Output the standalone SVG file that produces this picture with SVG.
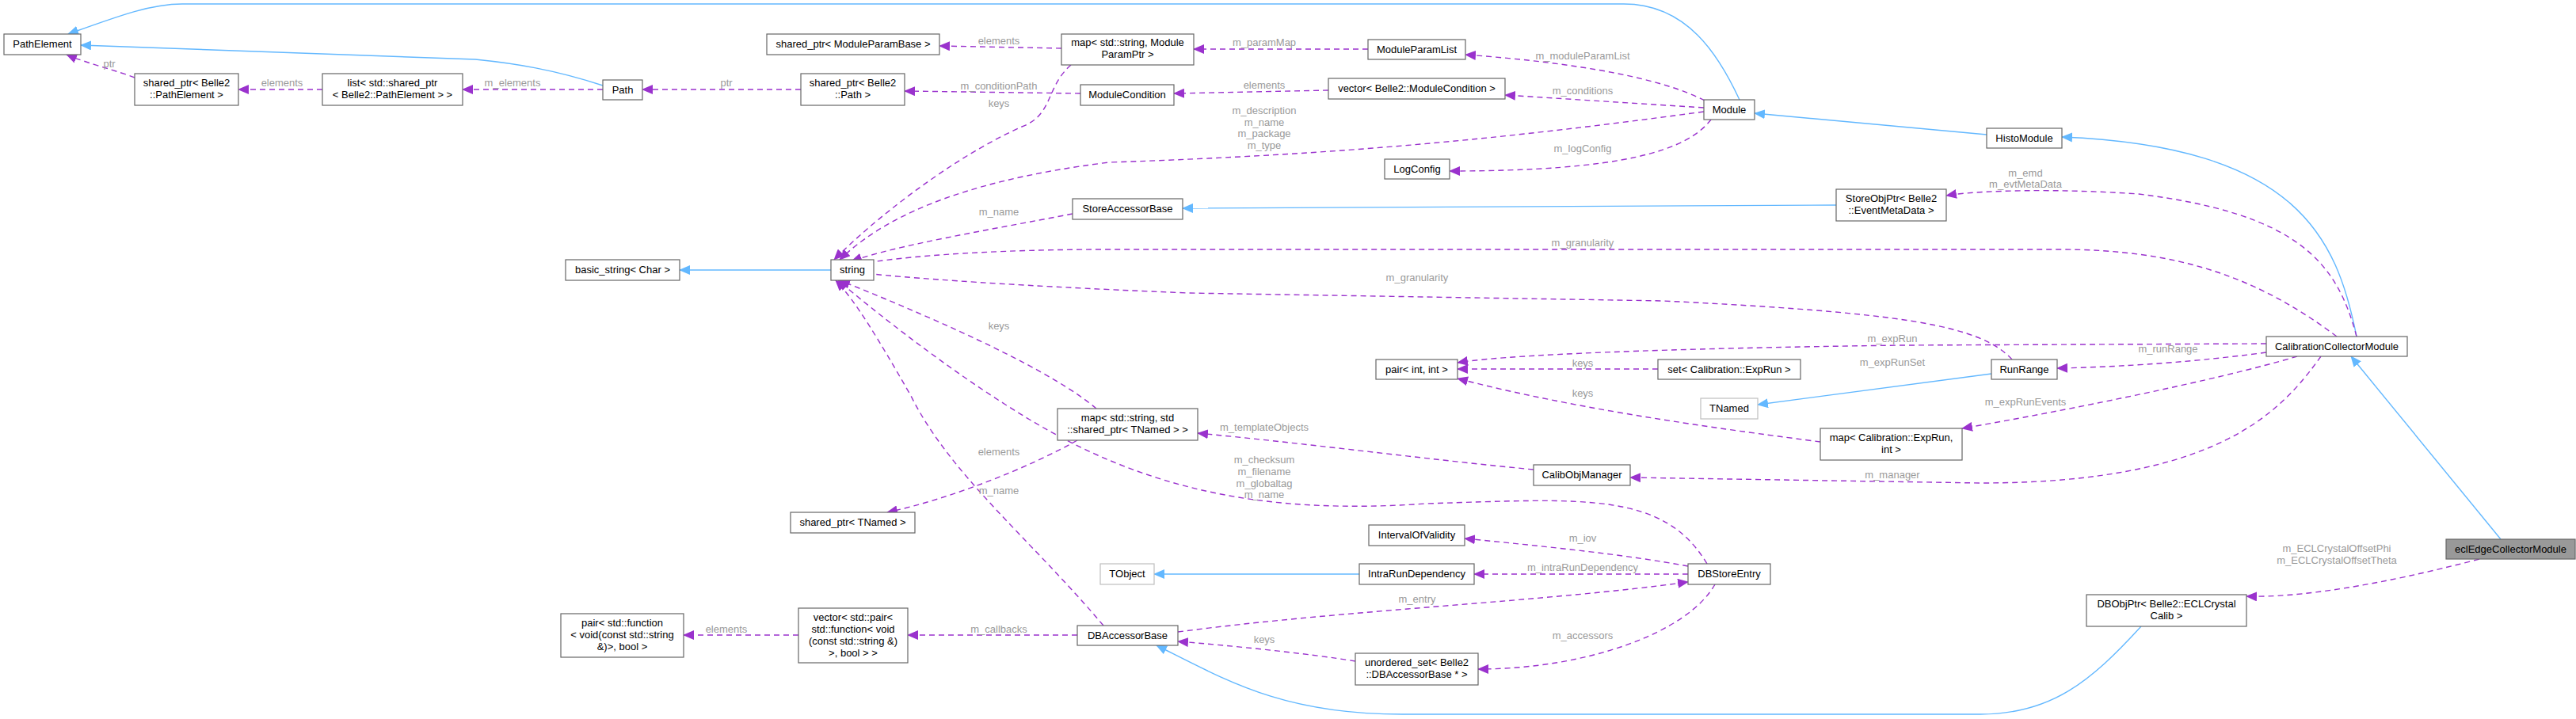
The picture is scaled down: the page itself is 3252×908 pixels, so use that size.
<svg xmlns="http://www.w3.org/2000/svg" width="3252" height="908" viewBox="0 0 3252 908">
<style>
text{font-family:"Liberation Sans",Arial,sans-serif;font-size:13px;text-anchor:middle}
.n rect{fill:#fff;stroke:#666;stroke-width:1.2}
.n.g rect{stroke:#bfbfbf}
.n.c rect{fill:#999}
.n text{fill:#000}
.b{fill:none;stroke:#63b8ff;stroke-width:1.4;marker-end:url(#ab)}
.d{fill:none;stroke:#9a32cd;stroke-width:1.4;stroke-dasharray:7,5;marker-end:url(#ad)}
.l text{fill:#9a9a9a}
</style>
<defs>
<marker id="ab" markerWidth="14" markerHeight="12" refX="13" refY="6" orient="auto" markerUnits="userSpaceOnUse"><path d="M0,0L14,6L0,12z" fill="#63b8ff"/></marker>
<marker id="ad" markerWidth="14" markerHeight="12" refX="13" refY="6" orient="auto" markerUnits="userSpaceOnUse"><path d="M0,0L14,6L0,12z" fill="#9a32cd"/></marker>
</defs>
<rect width="3252" height="908" fill="#fff"/>
<g id="edges">
<path class="b" d="M2196,126 C2170,70 2130,5 2050,5 L230,5 C190,5 150,20 86,43"/>
<path class="b" d="M761,108 C700,88 650,80 600,75 L102,57"/>
<path class="b" d="M2508,170 L2215,143"/>
<path class="b" d="M2975,425 C2950,300 2900,185 2603,173"/>
<path class="b" d="M2318,259 L1493,263"/>
<path class="b" d="M1049,341 L858,341"/>
<path class="b" d="M2514,472 L2219,511"/>
<path class="b" d="M1716,725 L1457,725"/>
<path class="b" d="M2703,791 C2640,860 2590,902 2500,902 L1770,902 C1620,902 1550,860 1460,815"/>
<path class="b" d="M3157,681 L2968,450"/>
<path class="d" d="M170,98 C150,90 110,80 84,69"/>
<path class="d" d="M407,113 L301,113"/>
<path class="d" d="M761,113 L584,113"/>
<path class="d" d="M1011,113 L811,113"/>
<path class="d" d="M1340,61 L1186,58"/>
<path class="d" d="M1727,62 L1507,62"/>
<path class="d" d="M2152,127 C2100,100 2000,80 1850,69"/>
<path class="d" d="M1364,118 L1142,115"/>
<path class="d" d="M1677,114 L1482,118"/>
<path class="d" d="M2151,136 L1900,120"/>
<path class="d" d="M2151,141 C1900,175 1700,195 1400,205 C1200,230 1110,280 1060,328"/>
<path class="d" d="M2160,151 C2130,190 2050,216 1830,216"/>
<path class="d" d="M1352,82 C1320,110 1330,145 1290,160 C1200,200 1100,280 1053,328"/>
<path class="d" d="M1354,270 C1250,290 1130,310 1075,330"/>
<path class="d" d="M2950,425 C2850,350 2750,315 2600,315 L1400,315 C1200,315 1100,330 1075,335"/>
<path class="d" d="M2540,454 C2500,410 2400,395 2100,380 L1500,370 C1250,360 1110,348 1075,343"/>
<path class="d" d="M2975,425 C2950,330 2900,270 2700,245 C2600,238 2500,240 2457,247"/>
<path class="d" d="M2861,434 L2400,436 C2100,440 1900,448 1840,458"/>
<path class="d" d="M2861,445 C2750,460 2650,464 2597,465"/>
<path class="d" d="M2093,466 L1840,466"/>
<path class="d" d="M2298,558 C2200,545 2000,520 1840,478"/>
<path class="d" d="M2900,450 C2800,480 2600,520 2477,541"/>
<path class="d" d="M2930,450 C2880,520 2800,610 2500,610 L2058,603"/>
<path class="d" d="M1936,593 C1800,580 1650,560 1512,547"/>
<path class="d" d="M1384,516 C1330,470 1200,410 1060,354"/>
<path class="d" d="M1360,556 C1300,590 1200,630 1120,647"/>
<path class="d" d="M2155,712 C2100,620 2000,630 1800,636 C1600,650 1450,620 1300,530 C1200,470 1100,390 1058,354"/>
<path class="d" d="M1393,790 C1300,680 1200,600 1150,500 C1110,430 1080,380 1055,354"/>
<path class="d" d="M2131,715 C2050,700 1950,690 1849,680"/>
<path class="d" d="M2131,725 L1861,725"/>
<path class="d" d="M1487,798 C1700,770 1950,760 2131,735"/>
<path class="d" d="M2165,738 C2130,800 2000,845 1866,845"/>
<path class="d" d="M1711,835 C1650,825 1550,815 1487,810"/>
<path class="d" d="M1360,802 L1146,802"/>
<path class="d" d="M1008,802 L863,802"/>
<path class="d" d="M3130,706 C3000,740 2900,755 2836,753"/>
</g>
<g class="l">
<text x="138" y="85">ptr</text>
<text x="356" y="109">elements</text>
<text x="647" y="109">m_elements</text>
<text x="917" y="109">ptr</text>
<text x="1261" y="56">elements</text>
<text x="1596" y="58">m_paramMap</text>
<text x="1998" y="75">m_moduleParamList</text>
<text x="1261" y="113">m_conditionPath</text>
<text x="1261" y="135">keys</text>
<text x="1596" y="112">elements</text>
<text x="1998" y="119">m_conditions</text>
<text x="1596" y="144">m_description</text>
<text x="1596" y="159">m_name</text>
<text x="1596" y="173">m_package</text>
<text x="1596" y="188">m_type</text>
<text x="1998" y="192">m_logConfig</text>
<text x="1261" y="272">m_name</text>
<text x="1998" y="311">m_granularity</text>
<text x="1789" y="355">m_granularity</text>
<text x="1261" y="416">keys</text>
<text x="2557" y="223">m_emd</text>
<text x="2557" y="237">m_evtMetaData</text>
<text x="2389" y="432">m_expRun</text>
<text x="2737" y="445">m_runRange</text>
<text x="1998" y="463">keys</text>
<text x="2389" y="462">m_expRunSet</text>
<text x="1998" y="501">keys</text>
<text x="2557" y="512">m_expRunEvents</text>
<text x="1596" y="544">m_templateObjects</text>
<text x="1261" y="575">elements</text>
<text x="1596" y="585">m_checksum</text>
<text x="1596" y="600">m_filename</text>
<text x="1596" y="615">m_globaltag</text>
<text x="1596" y="629">m_name</text>
<text x="2389" y="604">m_manager</text>
<text x="1261" y="624">m_name</text>
<text x="1998" y="684">m_iov</text>
<text x="1998" y="721">m_intraRunDependency</text>
<text x="1789" y="761">m_entry</text>
<text x="1261" y="799">m_callbacks</text>
<text x="917" y="799">elements</text>
<text x="1596" y="812">keys</text>
<text x="1998" y="807">m_accessors</text>
<text x="2950" y="697">m_ECLCrystalOffsetPhi</text>
<text x="2950" y="712">m_ECLCrystalOffsetTheta</text>
</g>
<g id="PathElement" class="n"><rect x="5" y="43" width="97" height="26"/><text x="53.5" y="60">PathElement</text></g>
<g id="sp_PathElement" class="n"><rect x="170" y="93" width="131" height="40"/><text x="235.5" y="109">shared_ptr&lt; Belle2</text><text x="235.5" y="124">::PathElement &gt;</text></g>
<g id="list_sp" class="n"><rect x="407" y="93" width="177" height="40"/><text x="495.5" y="109">list&lt; std::shared_ptr</text><text x="495.5" y="124">&lt; Belle2::PathElement &gt; &gt;</text></g>
<g id="Path" class="n"><rect x="761" y="101" width="50" height="25"/><text x="786" y="118">Path</text></g>
<g id="sp_ModuleParamBase" class="n"><rect x="968" y="43" width="218" height="26"/><text x="1077" y="60">shared_ptr&lt; ModuleParamBase &gt;</text></g>
<g id="sp_Path" class="n"><rect x="1011" y="93" width="131" height="40"/><text x="1076.5" y="109">shared_ptr&lt; Belle2</text><text x="1076.5" y="124">::Path &gt;</text></g>
<g id="map_ModuleParamPtr" class="n"><rect x="1340" y="43" width="167" height="39"/><text x="1423.5" y="58">map&lt; std::string, Module</text><text x="1423.5" y="73">ParamPtr &gt;</text></g>
<g id="ModuleParamList" class="n"><rect x="1727" y="50" width="123" height="25"/><text x="1788.5" y="67">ModuleParamList</text></g>
<g id="ModuleCondition" class="n"><rect x="1364" y="107" width="118" height="26"/><text x="1423" y="124">ModuleCondition</text></g>
<g id="vec_ModuleCondition" class="n"><rect x="1677" y="99" width="223" height="26"/><text x="1788.5" y="116">vector&lt; Belle2::ModuleCondition &gt;</text></g>
<g id="Module" class="n"><rect x="2151" y="126" width="64" height="25"/><text x="2183" y="143">Module</text></g>
<g id="LogConfig" class="n"><rect x="1748" y="201" width="82" height="25"/><text x="1789" y="218">LogConfig</text></g>
<g id="StoreAccessorBase" class="n"><rect x="1354" y="251" width="139" height="26"/><text x="1423.5" y="268">StoreAccessorBase</text></g>
<g id="HistoModule" class="n"><rect x="2508" y="162" width="95" height="25"/><text x="2555.5" y="179">HistoModule</text></g>
<g id="StoreObjPtr" class="n"><rect x="2318" y="239" width="139" height="40"/><text x="2387.5" y="255">StoreObjPtr&lt; Belle2</text><text x="2387.5" y="270">::EventMetaData &gt;</text></g>
<g id="basic_string" class="n"><rect x="714" y="328" width="144" height="26"/><text x="786" y="345">basic_string&lt; Char &gt;</text></g>
<g id="string" class="n"><rect x="1049" y="328" width="54" height="26"/><text x="1076" y="345">string</text></g>
<g id="CalibrationCollectorModule" class="n"><rect x="2861" y="425" width="178" height="25"/><text x="2950" y="442">CalibrationCollectorModule</text></g>
<g id="pair_int" class="n"><rect x="1737" y="454" width="103" height="25"/><text x="1788.5" y="471">pair&lt; int, int &gt;</text></g>
<g id="set_ExpRun" class="n"><rect x="2093" y="454" width="180" height="25"/><text x="2183" y="471">set&lt; Calibration::ExpRun &gt;</text></g>
<g id="RunRange" class="n"><rect x="2514" y="454" width="83" height="25"/><text x="2555.5" y="471">RunRange</text></g>
<g id="TNamed" class="n g"><rect x="2147" y="503" width="72" height="26"/><text x="2183" y="520">TNamed</text></g>
<g id="map_TNamed" class="n"><rect x="1335" y="516" width="177" height="40"/><text x="1423.5" y="532">map&lt; std::string, std</text><text x="1423.5" y="547">::shared_ptr&lt; TNamed &gt; &gt;</text></g>
<g id="map_ExpRun" class="n"><rect x="2298" y="541" width="179" height="40"/><text x="2387.5" y="557">map&lt; Calibration::ExpRun,</text><text x="2387.5" y="572">int &gt;</text></g>
<g id="CalibObjManager" class="n"><rect x="1936" y="587" width="122" height="26"/><text x="1997" y="604">CalibObjManager</text></g>
<g id="sp_TNamed" class="n"><rect x="998" y="647" width="157" height="26"/><text x="1076.5" y="664">shared_ptr&lt; TNamed &gt;</text></g>
<g id="IntervalOfValidity" class="n"><rect x="1728" y="663" width="121" height="26"/><text x="1788.5" y="680">IntervalOfValidity</text></g>
<g id="TObject" class="n g"><rect x="1389" y="712" width="68" height="26"/><text x="1423" y="729">TObject</text></g>
<g id="IntraRunDependency" class="n"><rect x="1716" y="712" width="145" height="26"/><text x="1788.5" y="729">IntraRunDependency</text></g>
<g id="DBStoreEntry" class="n"><rect x="2131" y="712" width="104" height="26"/><text x="2183" y="729">DBStoreEntry</text></g>
<g id="eclEdgeCollectorModule" class="n c"><rect x="3088" y="681" width="163" height="25"/><text x="3169.5" y="698">eclEdgeCollectorModule</text></g>
<g id="DBObjPtr" class="n"><rect x="2634" y="751" width="202" height="40"/><text x="2735" y="767">DBObjPtr&lt; Belle2::ECLCrystal</text><text x="2735" y="782">Calib &gt;</text></g>
<g id="pair_function" class="n"><rect x="708" y="775" width="155" height="55"/><text x="785.5" y="791">pair&lt; std::function</text><text x="785.5" y="806">&lt; void(const std::string</text><text x="785.5" y="821">&amp;)&gt;, bool &gt;</text></g>
<g id="vec_pair" class="n"><rect x="1008" y="768" width="138" height="69"/><text x="1077" y="784">vector&lt; std::pair&lt;</text><text x="1077" y="799">std::function&lt; void</text><text x="1077" y="814">(const std::string &amp;)</text><text x="1077" y="829">&gt;, bool &gt; &gt;</text></g>
<g id="DBAccessorBase" class="n"><rect x="1360" y="790" width="127" height="25"/><text x="1423.5" y="807">DBAccessorBase</text></g>
<g id="unordered_set" class="n"><rect x="1711" y="825" width="155" height="40"/><text x="1788.5" y="841">unordered_set&lt; Belle2</text><text x="1788.5" y="856">::DBAccessorBase * &gt;</text></g>
</svg>
